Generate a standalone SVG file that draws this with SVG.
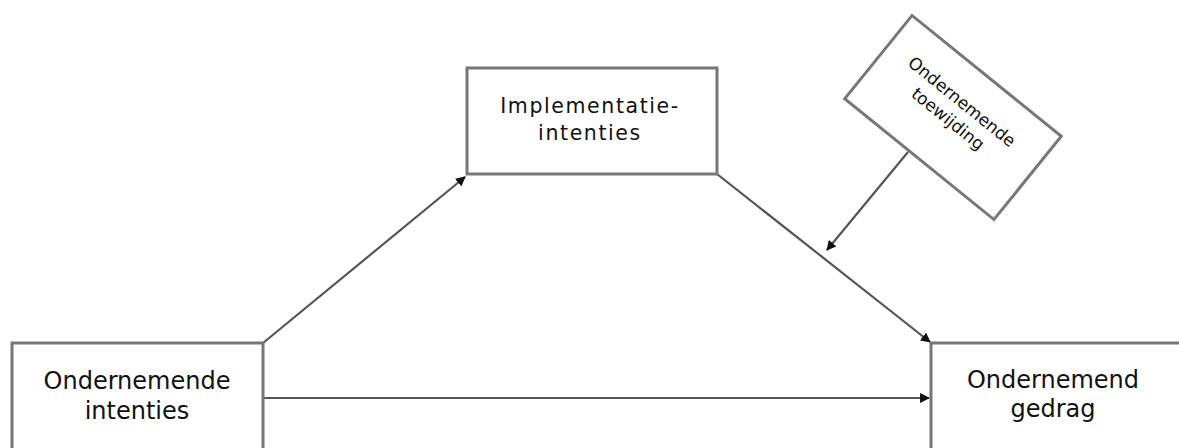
<svg xmlns="http://www.w3.org/2000/svg" width="1179" height="448" viewBox="0 0 1179 448">
<style>
.box{fill:#fff;stroke:#777;stroke-width:3}
.t{font-family:"DejaVu Sans",Verdana,sans-serif;fill:#111;text-anchor:middle}
.big{font-size:24px}
.mid{font-size:20.5px;letter-spacing:1.6px}
.sm{font-size:17px}
.c{stroke:#555;stroke-width:2.2;fill:none;marker-end:url(#ah)}
</style>
<defs>
<marker id="ah" viewBox="0 0 10 10" refX="9" refY="5" markerWidth="4.5" markerHeight="4.5" orient="auto" markerUnits="strokeWidth">
<path d="M0,0 L10,5 L0,10 z" fill="#111"/>
</marker>
</defs>
<rect width="1179" height="448" fill="#fff"/>
<g id="connectors">
<path class="c" d="M263,343 L465,177"/>
<path class="c" d="M717,174 L930,342"/>
<path class="c" d="M263,398 L929,398"/>
<path class="c" d="M908,152 L827,250"/>
</g>
<g id="n-intenties">
<rect class="box" x="12" y="343" width="251" height="120"/>
<text class="t big" x="137" y="389">Ondernemende</text>
<text class="t big" x="137" y="419">intenties</text>
</g>
<g id="n-implementatie">
<rect class="box" x="467" y="68" width="250" height="106"/>
<text class="t mid" x="590" y="113">Implementatie-</text>
<text class="t mid" x="590" y="140">intenties</text>
</g>
<g id="n-gedrag">
<rect class="box" x="931" y="343" width="260" height="120"/>
<text class="t big" x="1053" y="388">Ondernemend</text>
<text class="t big" x="1053" y="417">gedrag</text>
</g>
<g id="n-toewijding" transform="translate(953,117.5) rotate(39)">
<rect class="box" x="-96" y="-53.5" width="192" height="107"/>
<text class="t sm" x="-3" y="-12">Ondernemende</text>
<text class="t sm" x="-3" y="10">toewijding</text>
</g>
</svg>
